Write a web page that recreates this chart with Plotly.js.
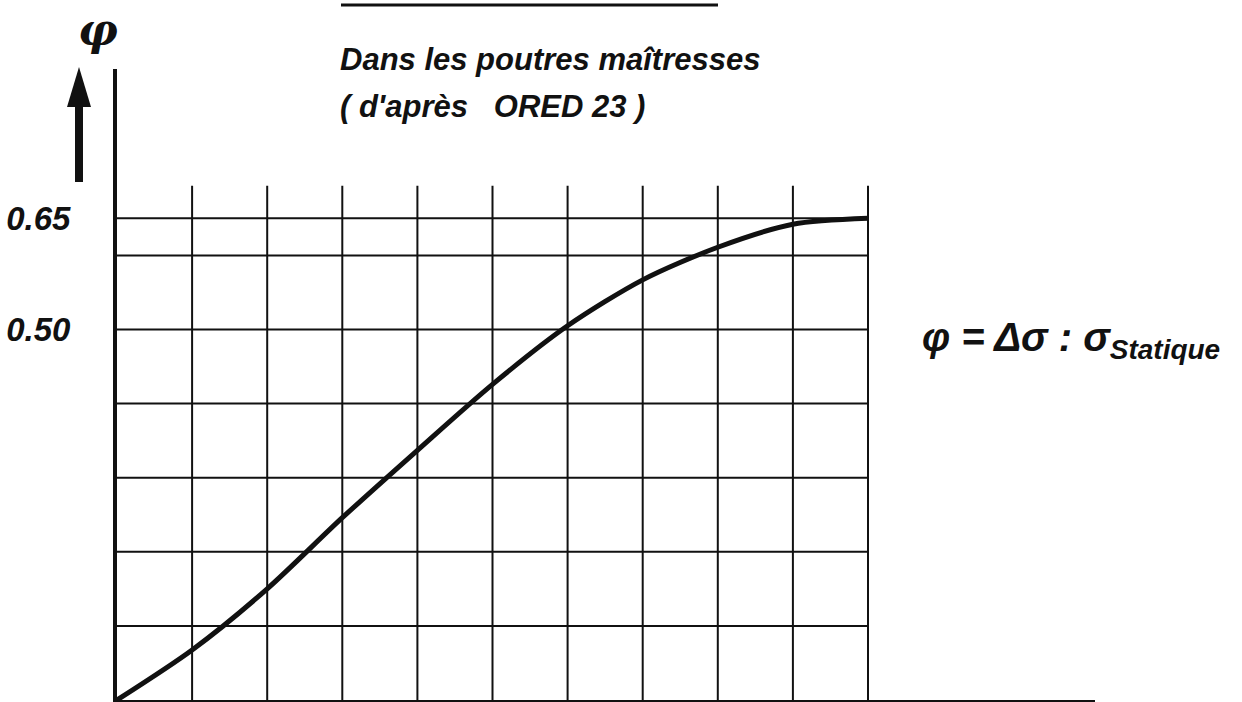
<!DOCTYPE html>
<html>
<head>
<meta charset="utf-8">
<script src="https://cdn.plot.ly/plotly-3.0.1.min.js"></script>
<style>
  html, body { margin: 0; padding: 0; background: #fff; }
  #chart { width: 1242px; height: 702px; }
</style>
</head>
<body>
<div id="chart"></div>
<script>
// grid steps along the horizontal axis (no units given on the drawing)
const steps = [0, 1, 2, 3, 4, 5, 6, 7, 8, 9, 10];
// phi = delta sigma : sigma statique
const phiValues = [0, 0.0675, 0.150, 0.246, 0.337, 0.426, 0.505, 0.567, 0.611, 0.642, 0.650];

const yTickVals = [0.50, 0.65];
const yTickText = ['0.50', '0.65'];
const gridX = [1, 2, 3, 4, 5, 6, 7, 8, 9, 10];
const gridY = [0.1, 0.2, 0.3, 0.4, 0.5, 0.6, 0.65];
const gridTop = 0.694;

const ink = '#111111';
const handFont = {
    family: '"Liberation Sans", Arial, sans-serif',
    color: ink,
    weight: 'bold',
    style: 'italic'
};

// page pixel -> paper coords (plot area is 117..1095 x 69..700)
const L = 117, R = 147, T = 69, B = 2;
const W = 1242 - L - R, H = 702 - T - B;
const px = x => (x - L) / W;
const py = y => (702 - B - y) / H;

const shapes = [];
gridX.forEach(x => shapes.push({
    type: 'line', xref: 'x', yref: 'y',
    x0: x, x1: x, y0: 0, y1: gridTop,
    line: { color: ink, width: 2 }
}));
gridY.forEach(y => shapes.push({
    type: 'line', xref: 'x', yref: 'y',
    x0: 0, x1: gridX[gridX.length - 1], y0: y, y1: y,
    line: { color: ink, width: 2 }
}));

// rule above the title
shapes.push({
    type: 'line', xref: 'paper', yref: 'paper',
    x0: px(341), x1: px(718), y0: py(5), y1: py(5),
    line: { color: ink, width: 3 }
});

// arrow next to phi
shapes.push({
    type: 'rect', xref: 'paper', yref: 'paper',
    x0: px(75), x1: px(83), y0: py(182), y1: py(104),
    fillcolor: ink, line: { width: 0 }
});
shapes.push({
    type: 'path', xref: 'paper', yref: 'paper',
    path: `M ${px(79)} ${py(67)} L ${px(67)} ${py(107)} L ${px(91)} ${py(107)} Z`,
    fillcolor: ink, line: { width: 0 }
});

const trace = {
    x: steps,
    y: phiValues,
    mode: 'lines',
    line: { color: ink, width: 5, shape: 'spline', smoothing: 0.8 },
    hoverinfo: 'skip'
};

const layout = {
    width: 1242,
    height: 702,
    margin: { l: L, r: R, t: T, b: B },
    paper_bgcolor: '#ffffff',
    plot_bgcolor: '#ffffff',
    showlegend: false,
    xaxis: {
        range: [0, W / 75.1],
        showgrid: false,
        zeroline: false,
        showticklabels: false,
        ticks: '',
        showline: true,
        linecolor: ink,
        linewidth: 3
    },
    yaxis: {
        range: [0, H / 741],
        showgrid: false,
        zeroline: false,
        tickvals: yTickVals,
        ticktext: yTickText,
        ticks: '',
        ticklabelstandoff: 36,
        tickfont: Object.assign({}, handFont, { size: 33 }),
        showline: true,
        linecolor: ink,
        linewidth: 4
    },
    shapes: shapes,
    annotations: [
        {
            xref: 'paper', yref: 'paper', x: px(76), y: py(29),
            yanchor: 'middle',
            text: 'φ', showarrow: false,
            font: { family: '"DejaVu Serif", serif', size: 44, color: ink, style: 'italic', weight: 'bold' }
        },
        {
            xref: 'paper', yref: 'paper', x: px(338), y: py(60),
            xanchor: 'left', yanchor: 'middle',
            text: 'Dans les poutres maîtresses', showarrow: false,
            font: Object.assign({}, handFont, { size: 31 })
        },
        {
            xref: 'paper', yref: 'paper', x: px(338), y: py(107),
            xanchor: 'left', yanchor: 'middle',
            text: '( d\'après\u00a0\u00a0\u00a0ORED 23 )', showarrow: false,
            font: Object.assign({}, handFont, { size: 31 })
        },
        {
            xref: 'paper', yref: 'paper', x: px(920), y: py(340),
            xanchor: 'left', yanchor: 'middle',
            text: 'φ = Δσ : σ<sub>Statique</sub>', showarrow: false,
            font: Object.assign({}, handFont, { size: 40 })
        }
    ]
};

Plotly.newPlot('chart', [trace], layout, { displayModeBar: false, staticPlot: true });
</script>
</body>
</html>
